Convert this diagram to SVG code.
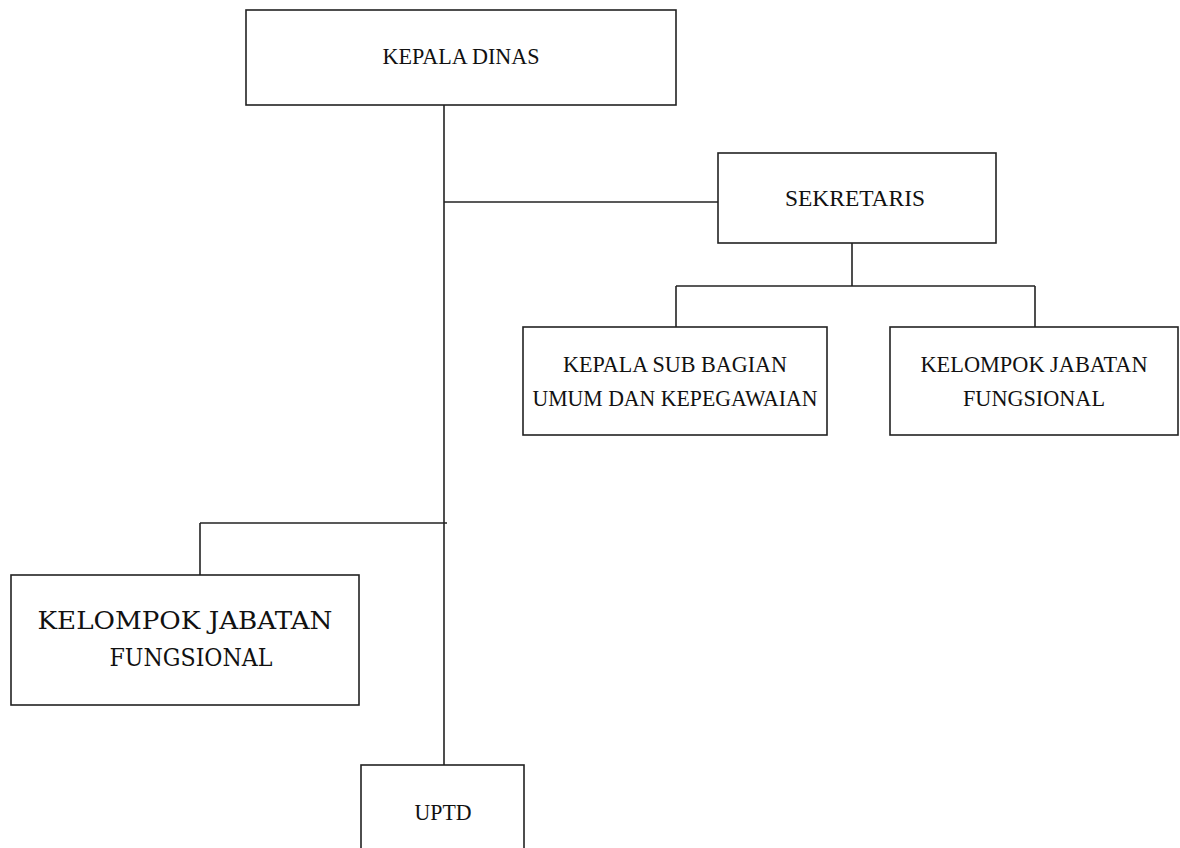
<svg xmlns="http://www.w3.org/2000/svg" width="1180" height="848" viewBox="0 0 1180 848">
<style>
.box{fill:#fff;stroke:#222;stroke-width:1.6}
.ln{stroke:#222;stroke-width:1.6;fill:none}
.t{font-family:"Liberation Serif","Times New Roman",serif;font-size:24px;fill:#111;text-anchor:middle}
.tb{font-family:"DejaVu Serif","Liberation Serif",serif;font-size:25px;fill:#111;text-anchor:middle}
</style>
<rect width="1180" height="848" fill="#fff"/>
<g id="connectors">
<line class="ln" x1="444" y1="105" x2="444" y2="765"/>
<line class="ln" x1="444" y1="202" x2="718" y2="202"/>
<line class="ln" x1="852" y1="243" x2="852" y2="286"/>
<line class="ln" x1="676" y1="286" x2="1035" y2="286"/>
<line class="ln" x1="676" y1="286" x2="676" y2="327"/>
<line class="ln" x1="1035" y1="286" x2="1035" y2="327"/>
<line class="ln" x1="200" y1="523" x2="447" y2="523"/>
<line class="ln" x1="200" y1="523" x2="200" y2="575"/>
</g>
<g id="kepala-dinas">
<rect class="box" x="246" y="10" width="430" height="95"/>
<text class="t" x="461" y="64" textLength="157" lengthAdjust="spacingAndGlyphs">KEPALA DINAS</text>
</g>
<g id="sekretaris">
<rect class="box" x="718" y="153" width="278" height="90"/>
<text class="t" x="855" y="206" textLength="140" lengthAdjust="spacingAndGlyphs">SEKRETARIS</text>
</g>
<g id="kasubag">
<rect class="box" x="523" y="327" width="304" height="108"/>
<text class="t" x="675" y="372" textLength="224" lengthAdjust="spacingAndGlyphs">KEPALA SUB BAGIAN</text>
<text class="t" x="675" y="406" textLength="285" lengthAdjust="spacingAndGlyphs">UMUM DAN KEPEGAWAIAN</text>
</g>
<g id="kjf-sekretaris">
<rect class="box" x="890" y="327" width="288" height="108"/>
<text class="t" x="1034" y="372" textLength="227" lengthAdjust="spacingAndGlyphs">KELOMPOK JABATAN</text>
<text class="t" x="1034" y="406" textLength="142" lengthAdjust="spacingAndGlyphs">FUNGSIONAL</text>
</g>
<g id="kjf-dinas">
<rect class="box" x="11" y="575" width="348" height="130"/>
<text class="tb" x="185" y="629" textLength="295" lengthAdjust="spacingAndGlyphs">KELOMPOK JABATAN</text>
<text class="tb" x="191" y="666" textLength="163" lengthAdjust="spacingAndGlyphs">FUNGSIONAL</text>
</g>
<g id="uptd">
<rect class="box" x="361" y="765" width="163" height="100"/>
<text class="t" x="443" y="820" textLength="57" lengthAdjust="spacingAndGlyphs">UPTD</text>
</g>
</svg>
